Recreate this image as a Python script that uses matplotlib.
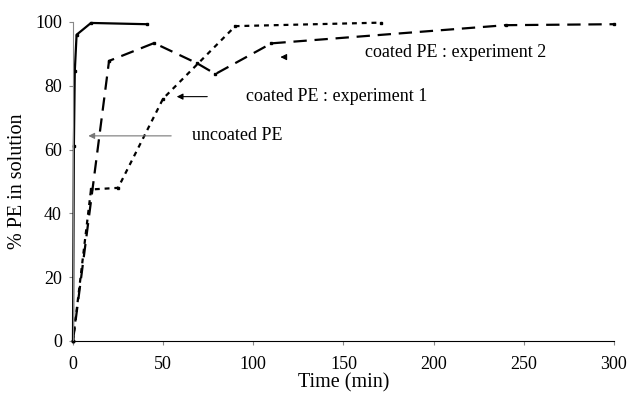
import matplotlib
matplotlib.use("Agg")
import matplotlib.pyplot as plt

# uncoated PE (solid line)
t_unc = [0, 0.5, 1, 2, 10, 41]
pe_unc = [0, 61, 84.5, 96, 99.7, 99.3]

# coated PE : experiment 1 (short dashes)
t_exp1 = [0, 10, 25, 50, 90, 171]
pe_exp1 = [0, 47.5, 48, 76, 98.7, 99.8]

# coated PE : experiment 2 (long dashes)
t_exp2 = [0, 20, 45, 69, 79, 110, 240, 300]
pe_exp2 = [0, 87.8, 93.4, 87, 83.7, 93.3, 99, 99.3]

xticks = [0, 50, 100, 150, 200, 250, 300]
yticks = [0, 20, 40, 60, 80, 100]

plt.rcParams['font.family'] = ['Liberation Serif', 'DejaVu Serif']

fig = plt.figure(figsize=(6.28, 3.99), dpi=100)
ax = fig.add_axes([0.1162, 0.1454, 0.8615, 0.7995])

ax.plot(t_unc, pe_unc, color='black', lw=1.6, marker='s', ms=2, clip_on=False)
ax.plot(t_exp1, pe_exp1, color='black', lw=1.6, marker='s', ms=2,
        dashes=(2.2, 2.2), clip_on=False)
ax.plot(t_exp2, pe_exp2, color='black', lw=1.6, marker='s', ms=2,
        dashes=(6, 3.5), clip_on=False)

ax.set_xlim(0, 300)
ax.set_ylim(0, 100)
ax.set_xticks(xticks)
ax.set_yticks(yticks)
ax.tick_params(labelsize=13, direction='out', length=3, color='#888888')
ax.tick_params(axis='x', pad=8)
ax.tick_params(axis='y', pad=5)
for s in ['top', 'right']:
    ax.spines[s].set_visible(False)
ax.spines['left'].set_color('#888888')
ax.spines['bottom'].set_color('black')
ax.set_xlabel('Time (min)', fontsize=14.5, labelpad=0)
ax.set_ylabel('% PE in solution', fontsize=14.5, labelpad=6)

# labels with arrows
ax.annotate('', xy=(115, 89), xytext=(118, 89),
            arrowprops=dict(arrowstyle='-|>', color='black', lw=0.8, mutation_scale=9))
ax.text(162, 90.5, 'coated PE : experiment 2', fontsize=13, va='center')
ax.annotate('', xy=(56, 76.6), xytext=(76, 76.6),
            arrowprops=dict(arrowstyle='-|>', color='black', lw=0.8, mutation_scale=9))
ax.text(96, 76.6, 'coated PE : experiment 1', fontsize=13, va='center')
ax.annotate('', xy=(7, 64.3), xytext=(56, 64.3),
            arrowprops=dict(arrowstyle='-|>', color='#777777', lw=0.8, mutation_scale=9))
ax.text(66, 64.3, 'uncoated PE', fontsize=13, va='center')

fig.savefig('out.png', dpi=100)
